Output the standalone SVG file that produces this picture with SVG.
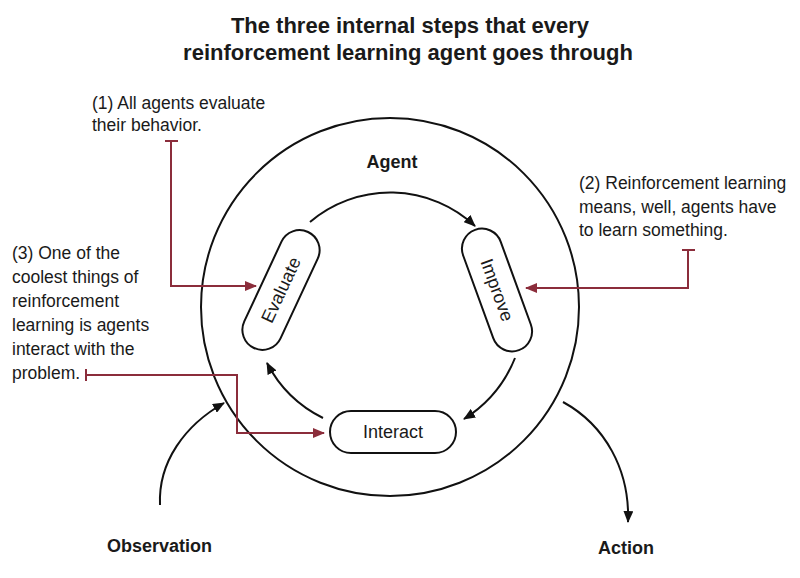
<svg xmlns="http://www.w3.org/2000/svg" width="800" height="578" viewBox="0 0 800 578">
<style>
.title{font-family:"Liberation Sans",Arial,sans-serif;font-weight:bold;font-size:22px;fill:#1a1a1a;text-anchor:middle}
.bold{font-family:"Liberation Sans",Arial,sans-serif;font-weight:bold;font-size:18px;fill:#1a1a1a}
.note{font-family:"Liberation Sans",Arial,sans-serif;font-size:17.5px;fill:#1a1a1a}
.lbl{font-family:"Liberation Sans",Arial,sans-serif;font-size:18px;fill:#1a1a1a;text-anchor:middle;dominant-baseline:central}
.pill{fill:#fff;stroke:#111;stroke-width:2}
.blk{fill:none;stroke:#111;stroke-width:2}
.red{fill:none;stroke:#8B2D3B;stroke-width:2}
</style>
<defs>
<marker id="ab" viewBox="0 0 12 10" refX="11" refY="5" markerWidth="12" markerHeight="10" markerUnits="userSpaceOnUse" orient="auto">
<path d="M0,0 L12,5 L0,10 Z" fill="#111"/>
</marker>
<marker id="ar" viewBox="0 0 12 10" refX="11" refY="5" markerWidth="12" markerHeight="10" markerUnits="userSpaceOnUse" orient="auto">
<path d="M0,0 L12,5 L0,10 Z" fill="#8B2D3B"/>
</marker>
</defs>
<rect width="800" height="578" fill="#fff"/>
<text class="title" x="410" y="33">The three internal steps that every</text>
<text class="title" x="408" y="60">reinforcement learning agent goes through</text>

<g id="agent">
<circle class="blk" cx="390" cy="307" r="189"/>
<text class="bold" x="392" y="168" text-anchor="middle" font-size="17">Agent</text>
</g>

<g id="evaluate">
<g transform="translate(281,290) rotate(-65)">
<rect class="pill" x="-64" y="-20" width="128" height="40" rx="20"/>
<text class="lbl" x="0" y="0">Evaluate</text>
</g>
</g>
<g id="improve">
<g transform="translate(497,290) rotate(70)">
<rect class="pill" x="-64" y="-20" width="128" height="40" rx="20"/>
<text class="lbl" x="0" y="0">Improve</text>
</g>
</g>
<g id="interact">
<rect class="pill" x="330" y="411" width="126" height="42" rx="21"/>
<text class="lbl" x="393" y="432">Interact</text>
</g>

<g id="observation"><text class="bold" x="107" y="552">Observation</text></g>
<g id="action"><text class="bold" x="598" y="554">Action</text></g>

<g id="note1">
<text class="note" x="92" y="109">(1) All agents evaluate</text>
<text class="note" x="92" y="131">their behavior.</text>
</g>
<g id="note2">
<text class="note" x="579" y="189">(2) Reinforcement learning</text>
<text class="note" x="579" y="213">means, well, agents have</text>
<text class="note" x="579" y="236">to learn something.</text>
</g>
<g id="note3">
<text class="note" x="12" y="259">(3) One of the</text>
<text class="note" x="12" y="283">coolest things of</text>
<text class="note" x="12" y="307">reinforcement</text>
<text class="note" x="12" y="331">learning is agents</text>
<text class="note" x="12" y="355">interact with the</text>
<text class="note" x="12" y="379">problem.</text>
</g>

<g id="connectors">
<path class="blk" d="M310,222 A124,124 0 0 1 475,226" marker-end="url(#ab)"/>
<path class="blk" d="M515,358 A128,128 0 0 1 464,419" marker-end="url(#ab)"/>
<path class="blk" d="M323,418 A126,126 0 0 1 267,363" marker-end="url(#ab)"/>
<path class="blk" d="M160,505 C158,462 185,425 224,403" marker-end="url(#ab)"/>
<path class="blk" d="M563,402 C605,425 630,470 628,522" marker-end="url(#ab)"/>
<path class="red" d="M165,141 H178 M171,141 V286 H256" marker-end="url(#ar)"/>
<path class="red" d="M682,250 H695 M688,250 V288 H526" marker-end="url(#ar)"/>
<path class="red" d="M86,369 V381 M86,375 H237 V433 H324" marker-end="url(#ar)"/>
</g>
</svg>
